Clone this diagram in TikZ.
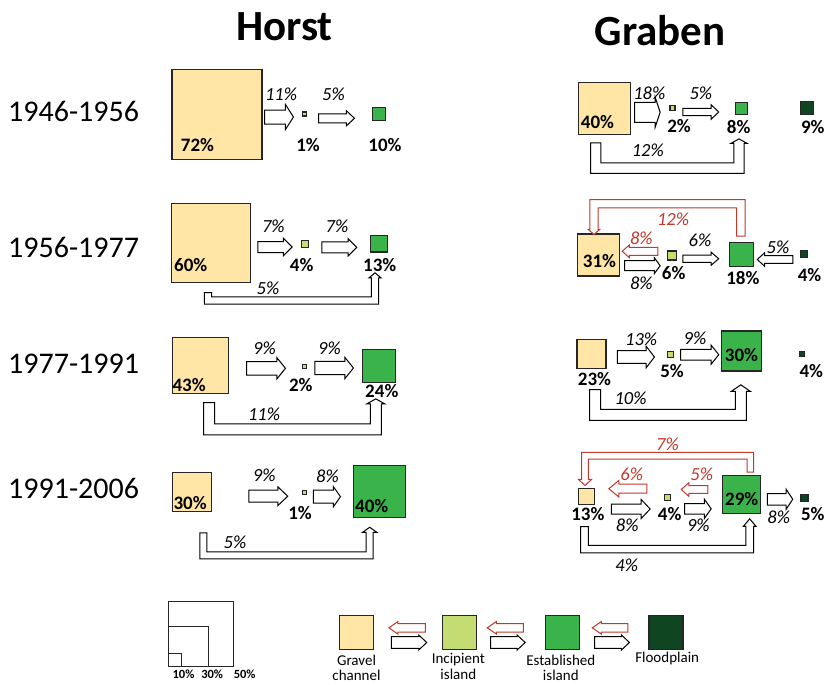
\documentclass[tikz,border=0pt]{standalone}
\usepackage{fontspec}
\setmainfont{Carlito}
\usepackage{tikz}
\usetikzlibrary{calc}
\definecolor{gravel}{HTML}{FFE6A6}
\definecolor{incip}{HTML}{C4DD72}
\definecolor{estab}{HTML}{3AB34A}
\definecolor{flood}{HTML}{0F4520}
\definecolor{backred}{HTML}{C0392B}
\newcommand{\sizept}[1]{\fontsize{#1}{#1}\selectfont}
\tikzset{
  shaft/.store in=\shaftw, headw/.store in=\headw, headl/.store in=\headl,
  drop/.store in=\udrop,
  shaft=5, headw=9, headl=8, drop=20,
  flow/.style={draw=black,fill=white,line width=1pt,
    to path={let \p1=(\tikztostart), \p2=(\tikztotarget),
      \n1={sign(\x2-\x1)*\headl} in
      (\x1,{\y1+\shaftw}) -- ({\x2-(\n1)},{\y1+\shaftw}) -- ({\x2-(\n1)},{\y1+\headw})
      -- (\x2,\y1) -- ({\x2-(\n1)},{\y1-\headw}) -- ({\x2-(\n1)},{\y1-\shaftw})
      -- (\x1,{\y1-\shaftw}) -- cycle}},
  backflow/.style={flow,draw=backred},
  uflow/.style={draw=black,fill=white,line width=1pt,
    to path={let \p1=(\tikztostart), \p2=(\tikztotarget), \p3=(\x1,{\y1-(\udrop)}),
      \n1={sign(\x2-\x1)*\shaftw}, \n2={sign(\udrop)*\shaftw},
      \n3={sign(\x2-\x1)*\headw}, \n4={sign(\udrop)*\headl} in
      ({\x1-(\n1)},\y1) -- ({\x1-(\n1)},{\y3-(\n2)}) -- ({\x2+(\n1)},{\y3-(\n2)})
      -- ({\x2+(\n1)},{\y2-(\n4)}) -- ({\x2+(\n3)},{\y2-(\n4)}) -- (\x2,\y2)
      -- ({\x2-(\n3)},{\y2-(\n4)}) -- ({\x2-(\n1)},{\y2-(\n4)})
      -- ({\x2-(\n1)},{\y3+(\n2)}) -- ({\x1+(\n1)},{\y3+(\n2)}) -- ({\x1+(\n1)},\y1) -- cycle}},
  ubackflow/.style={uflow,draw=backred},
  landbox/.style={draw=black!85,line width=1.1pt,inner sep=0pt,minimum size=#1},
  gravelbox/.style={landbox=#1,fill=gravel},
  incipbox/.style={landbox=#1,fill=incip},
  estabbox/.style={landbox=#1,fill=estab},
  floodbox/.style={landbox=#1,fill=flood},
  pct/.style={font=\bfseries\sizept{19},inner sep=0pt},
  rate/.style={font=\itshape\sizept{18.5},inner sep=0pt,anchor=base},
  backrate/.style={rate,text=backred},
  yearlabel/.style={font=\sizept{30},inner sep=0pt,anchor=base west},
  paneltitle/.style={font=\bfseries\sizept{43},inner sep=0pt,anchor=base},
  keytext/.style={font=\fontsize{15}{15.7}\selectfont,inner sep=0pt,anchor=base},
  keysize/.style={font=\bfseries\sizept{12.5},inner sep=0pt,anchor=base}
}

\begin{document}
\begin{tikzpicture}[x=1pt,y=-1pt]
  \useasboundingbox (0,0) rectangle (827,685);
  \node[paneltitle] (horst) at (284.5,41) {Horst};
  \node[paneltitle] (graben) at (660,46) {Graben};
  \node[yearlabel] (y1) at (8,121) {1946-1956};
  \node[yearlabel] (y2) at (8,257) {1956-1977};
  \node[yearlabel] (y3) at (8,373) {1977-1991};
  \node[yearlabel] (y4) at (8,498) {1991-2006};

  % Horst 1946-1956
  \node[gravelbox=90] (h1g) at (217,114.2) {};
  \node[pct,anchor=base west] (h1gp) at (180.7,151.7) {72\%};
  \node[incipbox=4] (h1i) at (304.7,114) {};
  \node[pct,anchor=base] (h1ip) at (308,151.7) {1\%};
  \node[estabbox=13] (h1e) at (379.3,114.3) {};
  \node[pct,anchor=base] (h1ep) at (385,151.7) {10\%};
  \draw[flow,shaft=7,headw=12.5,headl=8] ([xshift=2pt]h1g.east |- 0,117) to ([xshift=-8.7pt]h1i.west);
  \node[rate] (h1r1) at (281,100.7) {11\%};
  \draw[flow,shaft=4.5,headw=7.5,headl=8] ([xshift=11.3pt]h1i.east |- 0,118.3) to ([xshift=-17.8pt]h1e.west);
  \node[rate] (h1r2) at (333.5,100.7) {5\%};

  % Horst 1956-1977
  \node[gravelbox=79] (h2g) at (211.2,243.3) {};
  \node[pct,anchor=base west] (h2gp) at (174,271.7) {60\%};
  \node[incipbox=7] (h2i) at (304.7,244) {};
  \node[pct,anchor=base] (h2ip) at (301.7,271.7) {4\%};
  \node[estabbox=16.6] (h2e) at (379,243.7) {};
  \node[pct,anchor=base] (h2ep) at (379.7,271.7) {13\%};
  \draw[flow,shaft=5.5,headw=8.7,headl=8.7] ([xshift=6.6pt]h2g.east |- 0,247) to ([xshift=-8.5pt]h2i.west);
  \node[rate] (h2r1) at (273.3,232.7) {7\%};
  \draw[flow,shaft=5.5,headw=8.7,headl=8.7] ([xshift=13.1pt]h2i.east |- 0,247.3) to ([xshift=-13.4pt]h2e.west);
  \node[rate] (h2r2) at (337,232.7) {7\%};
  \draw[uflow,shaft=3.6,headw=6,headl=5,drop=8] ([xshift=-3.2pt,yshift=-9.2pt]h2g.south) to ([xshift=-4pt,yshift=-20.3pt]h2e.south);
  \node[rate] (h2r3) at (268,294) {5\%};

  % Horst 1977-1991
  \node[gravelbox=56] (h3g) at (200.3,365.3) {};
  \node[pct,anchor=base west] (h3gp) at (172.3,391) {43\%};
  \node[incipbox=4] (h3i) at (304.4,366.3) {};
  \node[pct,anchor=base] (h3ip) at (300.8,391) {2\%};
  \node[estabbox=33] (h3e) at (379.2,365.8) {};
  \draw[flow,shaft=6.7,headw=10.8,headl=8.7] ([xshift=17.7pt]h3g.east |- 0,368.3) to ([xshift=-16.4pt]h3i.west);
  \node[rate] (h3r1) at (264.5,354) {9\%};
  \draw[flow,shaft=6.7,headw=10.8,headl=8.7] ([xshift=7.9pt]h3i.east |- 0,368) to ([xshift=-8.7pt]h3e.west);
  \node[rate] (h3r2) at (329.5,354) {9\%};
  \draw[uflow,shaft=5.5,headw=9,headl=5,drop=26.7] ([xshift=8.9pt,yshift=-8.7pt]h3g.south) to ([xshift=-3.4pt,yshift=-16pt]h3e.south);
  \node[pct,anchor=base] (h3ep) at (381.8,397.3) {24\%};
  \node[rate] (h3r3) at (264,420) {11\%};

  % Horst 1991-2006
  \node[gravelbox=39] (h4g) at (192,491.7) {};
  \node[pct,anchor=base west] (h4gp) at (173.3,509) {30\%};
  \node[incipbox=4] (h4i) at (304.3,492.8) {};
  \node[pct,anchor=base] (h4ip) at (300,519) {1\%};
  \node[estabbox=52] (h4e) at (379.3,491.2) {};
  \node[pct,anchor=base west] (h4ep) at (355,512.3) {40\%};
  \draw[flow,shaft=6,headw=9.5,headl=10] ([xshift=36.8pt]h4g.east |- 0,496.2) to ([xshift=-14pt]h4i.west);
  \node[rate] (h4r1) at (264.2,481.7) {9\%};
  \draw[flow,shaft=6.5,headw=10,headl=7] ([xshift=6.4pt]h4i.east |- 0,496.7) to ([xshift=-12.3pt]h4e.west);
  \node[rate] (h4r2) at (327.5,482.3) {8\%};
  \draw[uflow,shaft=3.5,headw=7,headl=5,drop=22.4] ([xshift=11.3pt,yshift=-21.1pt]h4g.south) to ([xshift=-9.6pt,yshift=-9.5pt]h4e.south);
  \node[rate] (h4r3) at (235,548.3) {5\%};

  % Graben 1946-1956
  \node[gravelbox=52] (g1g) at (604.5,108.3) {};
  \node[pct,anchor=base west] (g1gp) at (580.7,128.3) {40\%};
  \node[incipbox=5] (g1i) at (672.5,108.3) {};
  \node[pct,anchor=base] (g1ip) at (679,132.3) {2\%};
  \node[estabbox=12] (g1e) at (741.7,108.8) {};
  \node[pct,anchor=base] (g1ep) at (738.7,133.3) {8\%};
  \node[floodbox=13] (g1f) at (807.3,108) {};
  \node[pct,anchor=base] (g1fp) at (812.8,133.3) {9\%};
  \draw[flow,shaft=10,headw=15,headl=5] ([xshift=3.5pt]g1g.east |- 0,112.3) to ([xshift=-9.3pt]g1i.west);
  \node[rate] (g1r1) at (649.3,99.3) {18\%};
  \draw[flow,shaft=3.7,headw=7.2,headl=7.6] ([xshift=7.3pt]g1i.east |- 0,112) to ([xshift=-16.4pt]g1e.west);
  \node[rate] (g1r2) at (700.8,99.3) {5\%};
  \draw[uflow,shaft=5.2,headw=8,headl=4.5,drop=25.2] ([xshift=-8.8pt,yshift=-8pt]g1g.south) to ([xshift=-2.7pt,yshift=-23.5pt]g1e.south);
  \node[rate] (g1r3) at (647.8,156.7) {12\%};

  % Graben 1956-1977
  \node[gravelbox=42] (g2g) at (598.3,255) {};
  \node[pct,anchor=base west] (g2gp) at (582.7,267.3) {31\%};
  \node[incipbox=9] (g2i) at (672,255.5) {};
  \node[pct,anchor=base] (g2ip) at (673.7,279.3) {6\%};
  \node[estabbox=24] (g2e) at (741.3,254.5) {};
  \node[pct,anchor=base] (g2ep) at (742.8,284.3) {18\%};
  \node[floodbox=7] (g2f) at (804,254.3) {};
  \node[pct,anchor=base] (g2fp) at (809.5,281.7) {4\%};
  \draw[backflow,shaft=4,headw=6.3,headl=7] ([xshift=-9.2pt]g2i.west |- 0,251.3) to ([xshift=2.4pt]g2g.east);
  \node[backrate] (g2r1) at (641.3,244.3) {8\%};
  \draw[flow,shaft=5,headw=7.8,headl=5.7] ([xshift=4.7pt]g2g.east |- 0,265.7) to ([xshift=-6.8pt]g2i.west);
  \node[rate] (g2r2) at (641.3,289) {8\%};
  \draw[flow,shaft=3.7,headw=6.5,headl=7.6] ([xshift=5.8pt]g2i.east |- 0,258.7) to ([xshift=-10pt]g2e.west);
  \node[rate] (g2r3) at (700,246) {6\%};
  \draw[flow,shaft=3.8,headw=6.7,headl=7.3] ([xshift=-7.2pt]g2f.west |- 0,259.5) to ([xshift=3.4pt]g2e.east);
  \node[rate] (g2r4) at (778,253.3) {5\%};
  \draw[ubackflow,shaft=4.2,headw=5.7,headl=5,drop=-32.4] ([xshift=-0.5pt,yshift=5.8pt]g2e.north) to ([xshift=-4.3pt,yshift=-1pt]g2g.north);
  \node[backrate] (g2r5) at (673,225) {12\%};

  % Graben 1977-1991
  \node[gravelbox=29] (g3g) at (591.5,354.2) {};
  \node[pct,anchor=base] (g3gp) at (594.5,385) {23\%};
  \node[incipbox=6] (g3i) at (670.7,354.2) {};
  \node[pct,anchor=base] (g3ip) at (672,377.3) {5\%};
  \node[estabbox=40] (g3e) at (741.3,351) {};
  \node[pct,anchor=base] (g3ep) at (741.5,361.7) {30\%};
  \node[floodbox=5] (g3f) at (801.8,353.8) {};
  \node[pct,anchor=base] (g3fp) at (811.3,377.3) {4\%};
  \draw[flow,shaft=6.3,headw=10.8,headl=8.3] ([xshift=10.7pt]g3g.east |- 0,357) to ([xshift=-12.7pt]g3i.west);
  \node[rate] (g3r1) at (641.2,345) {13\%};
  \draw[flow,shaft=5.3,headw=9.5,headl=7.6] ([xshift=6.3pt]g3i.east |- 0,354.7) to ([xshift=-2pt]g3e.west);
  \node[rate] (g3r2) at (695,344.3) {9\%};
  \draw[uflow,shaft=5.5,headw=9.5,headl=6.5,drop=25.2] ([xshift=3.5pt,yshift=-20.3pt]g3g.south) to ([xshift=-0.5pt,yshift=-13.3pt]g3e.south);
  \node[rate] (g3r3) at (630.5,404) {10\%};

  % Graben 1991-2006
  \node[gravelbox=16] (g4g) at (586.3,496.2) {};
  \node[pct,anchor=base] (g4gp) at (587.8,520.7) {13\%};
  \node[incipbox=6] (g4i) at (667.2,497.8) {};
  \node[pct,anchor=base] (g4ip) at (669.7,520.7) {4\%};
  \node[estabbox=38] (g4e) at (741.7,494.5) {};
  \node[pct,anchor=base] (g4ep) at (741.7,505) {29\%};
  \node[floodbox=7] (g4f) at (804.5,497.7) {};
  \node[pct,anchor=base] (g4fp) at (812.8,520.7) {5\%};
  \draw[backflow,shaft=4.5,headw=8.3,headl=10] ([xshift=-16.9pt]g4i.west |- 0,488.7) to ([xshift=14pt]g4g.east);
  \node[backrate] (g4r1) at (631.7,480) {6\%};
  \draw[flow,shaft=5,headw=9.5,headl=9] ([xshift=16.4pt]g4g.east |- 0,509) to ([xshift=-13.5pt]g4i.west);
  \node[rate] (g4r2) at (627.2,531.7) {8\%};
  \draw[backflow,shaft=3.8,headw=6.8,headl=7.6] ([xshift=-14.4pt]g4e.west |- 0,489.5) to ([xshift=10.5pt]g4i.east);
  \node[backrate] (g4r3) at (701.7,480) {5\%};
  \draw[flow,shaft=5.3,headw=9.5,headl=6.7] ([xshift=13.8pt]g4i.east |- 0,508.8) to ([xshift=-11pt]g4e.west);
  \node[rate] (g4r4) at (698.3,531.7) {9\%};
  \draw[flow,shaft=5.8,headw=10,headl=6.6] ([xshift=6pt]g4e.east |- 0,499.3) to ([xshift=-7.7pt]g4f.west);
  \node[rate] (g4r5) at (778.7,523.3) {8\%};
  \draw[ubackflow,shaft=3.3,headw=6.5,headl=6,drop=-16.4] ([xshift=8.6pt,yshift=2.8pt]g4e.north) to ([xshift=-1.3pt,yshift=2.2pt]g4g.north);
  \node[backrate] (g4r6) at (667.5,450.7) {7\%};
  \draw[uflow,shaft=3.8,headw=6.2,headl=7.4,drop=22.5] ([xshift=-1.8pt,yshift=-21.8pt]g4g.south) to ([xshift=8pt,yshift=-4.8pt]g4e.south);
  \node[rate] (g4r7) at (626.7,571.7) {4\%};

  % size key
  \node[landbox=65,anchor=south west] (sz50) at (168.3,666.7) {};
  \node[landbox=40,anchor=south west] (sz30) at (168.3,666.7) {};
  \node[landbox=12.5,anchor=south west] (sz10) at (168.3,666.7) {};
  \node[keysize] (sz10t) at (183.5,678.3) {10\%};
  \node[keysize] (sz30t) at (212.2,678.3) {30\%};
  \node[keysize] (sz50t) at (244.7,678.3) {50\%};

  % class key
  \node[gravelbox=34] (lg) at (356.3,632.3) {};
  \node[incipbox=34] (li) at (459.7,632.3) {};
  \node[estabbox=34] (le) at (562.7,632.3) {};
  \node[floodbox=34] (lf) at (666,632.3) {};
  \draw[backflow,shaft=4.2,headw=6.2,headl=9] ([xshift=-16.7pt]li.west |- 0,627.8) to ([xshift=15pt]lg.east);
  \draw[flow,shaft=5.8,headw=7.5,headl=8] ([xshift=17.4pt]lg.east |- 0,642.5) to ([xshift=-15.4pt]li.west);
  \draw[backflow,shaft=4.2,headw=6.2,headl=9] ([xshift=-21.7pt]le.west |- 0,627.8) to ([xshift=10pt]li.east);
  \draw[flow,shaft=5.8,headw=7.5,headl=8] ([xshift=13.3pt]li.east |- 0,642.5) to ([xshift=-20pt]le.west);
  \draw[backflow,shaft=4.2,headw=6.2,headl=9] ([xshift=-20.7pt]lf.west |- 0,627.8) to ([xshift=12pt]le.east);
  \draw[flow,shaft=5.8,headw=7.5,headl=8] ([xshift=14.3pt]le.east |- 0,642.5) to ([xshift=-19pt]lf.west);
  \node[keytext] (lgt) at (356.5,665) {\begin{tabular}[t]{@{}c@{}}Gravel\\channel\end{tabular}};
  \node[keytext] (lit) at (458.3,663.3) {\begin{tabular}[t]{@{}c@{}}Incipient\\island\end{tabular}};
  \node[keytext] (let) at (560.8,665) {\begin{tabular}[t]{@{}c@{}}Established\\island\end{tabular}};
  \node[keytext] (lft) at (667.2,662.7) {Floodplain};
\end{tikzpicture}
\end{document}
